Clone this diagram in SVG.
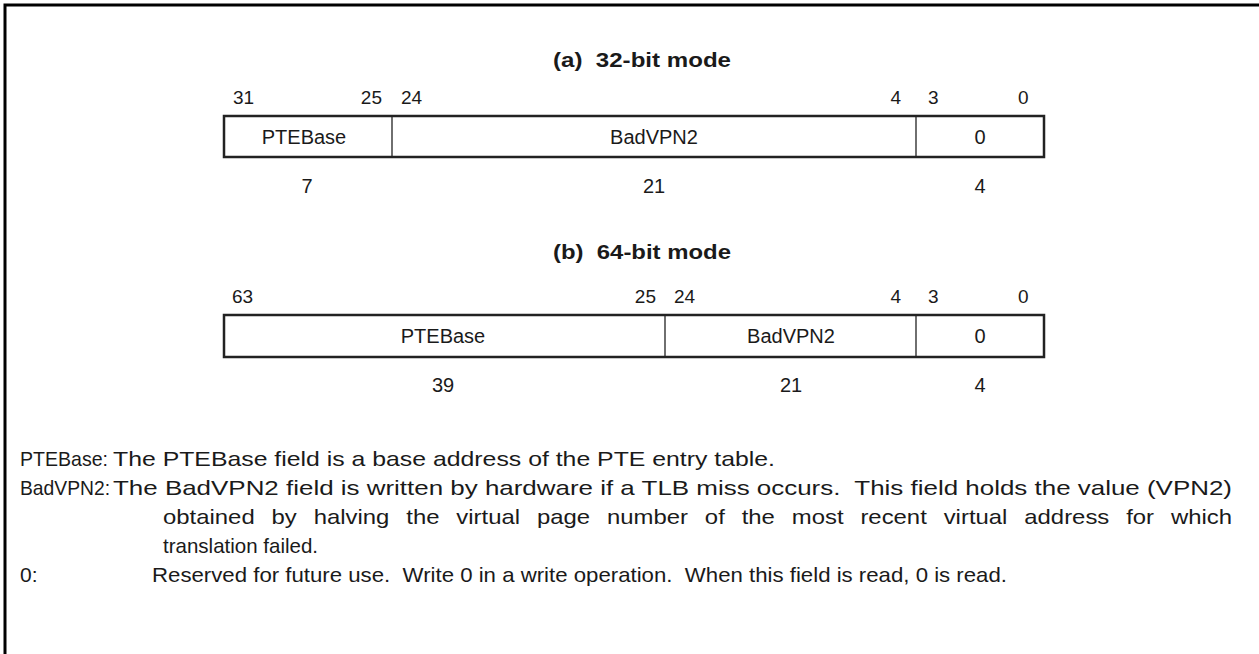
<svg xmlns="http://www.w3.org/2000/svg" width="1259" height="654" viewBox="0 0 1259 654">
<style>
  text { font-family: "Liberation Sans", Arial, sans-serif; fill: #1a1a1a; }
  .t { font-size: 20px; font-weight: bold; text-anchor: middle; }
  .n { font-size: 19px; }
  .c { font-size: 20px; text-anchor: middle; }
  .r { font-size: 19px; text-anchor: end; }
  .f { font-size: 21px; }
  .box { fill: #ffffff; stroke: #222222; stroke-width: 2.5; }
  .div { stroke: #222222; stroke-width: 1.3; }
  .frame { stroke: #000000; stroke-width: 3; fill: none; }
</style>
<path class="frame" d="M5 654 L5 5 L1259 5"/>

<g id="mode32">
  <text class="t" x="642" y="67" textLength="178" lengthAdjust="spacingAndGlyphs" xml:space="preserve">(a)  32-bit mode</text>
  <g id="bits32">
    <text class="n" x="233" y="104">31</text>
    <text class="r" x="382" y="104">25</text>
    <text class="n" x="401" y="104">24</text>
    <text class="r" x="901" y="104">4</text>
    <text class="n" x="928" y="104">3</text>
    <text class="n" x="1018" y="104">0</text>
  </g>
  <g id="reg32">
    <rect class="box" x="224" y="116" width="820" height="41"/>
    <line class="div" x1="392" y1="116" x2="392" y2="157"/>
    <line class="div" x1="916" y1="116" x2="916" y2="157"/>
    <text class="c" x="304" y="144">PTEBase</text>
    <text class="c" x="654" y="144">BadVPN2</text>
    <text class="c" x="980" y="144">0</text>
  </g>
  <g id="width32">
    <text class="c" x="307" y="193">7</text>
    <text class="c" x="654" y="193">21</text>
    <text class="c" x="980" y="193">4</text>
  </g>
</g>

<g id="mode64">
  <text class="t" x="642" y="259" textLength="178" lengthAdjust="spacingAndGlyphs" xml:space="preserve">(b)  64-bit mode</text>
  <g id="bits64">
    <text class="n" x="232" y="303">63</text>
    <text class="r" x="656" y="303">25</text>
    <text class="n" x="674" y="303">24</text>
    <text class="r" x="901" y="303">4</text>
    <text class="n" x="928" y="303">3</text>
    <text class="n" x="1018" y="303">0</text>
  </g>
  <g id="reg64">
    <rect class="box" x="224" y="315" width="820" height="42"/>
    <line class="div" x1="665" y1="315" x2="665" y2="357"/>
    <line class="div" x1="916" y1="315" x2="916" y2="357"/>
    <text class="c" x="443" y="343">PTEBase</text>
    <text class="c" x="791" y="343">BadVPN2</text>
    <text class="c" x="980" y="343">0</text>
  </g>
  <g id="width64">
    <text class="c" x="443" y="392">39</text>
    <text class="c" x="791" y="392">21</text>
    <text class="c" x="980" y="392">4</text>
  </g>
</g>

<g id="notes">
  <text class="f" x="20" y="466" textLength="88" lengthAdjust="spacingAndGlyphs">PTEBase:</text>
  <text class="f" x="113" y="466" textLength="662" lengthAdjust="spacingAndGlyphs">The PTEBase field is a base address of the PTE entry table.</text>
  <text class="f" x="20" y="495" textLength="90" lengthAdjust="spacingAndGlyphs">BadVPN2:</text>
  <text class="f" x="113" y="495" textLength="1119" lengthAdjust="spacingAndGlyphs" xml:space="preserve">The BadVPN2 field is written by hardware if a TLB miss occurs.  This field holds the value (VPN2)</text>
  <text class="f" x="163" y="524" textLength="1069" lengthAdjust="spacingAndGlyphs" word-spacing="9">obtained by halving the virtual page number of the most recent virtual address for which</text>
  <text class="f" x="163" y="553" textLength="155" lengthAdjust="spacingAndGlyphs">translation failed.</text>
  <text class="f" x="20" y="582">0:</text>
  <text class="f" x="152" y="582" textLength="855" lengthAdjust="spacingAndGlyphs" xml:space="preserve">Reserved for future use.  Write 0 in a write operation.  When this field is read, 0 is read.</text>
</g>
</svg>
